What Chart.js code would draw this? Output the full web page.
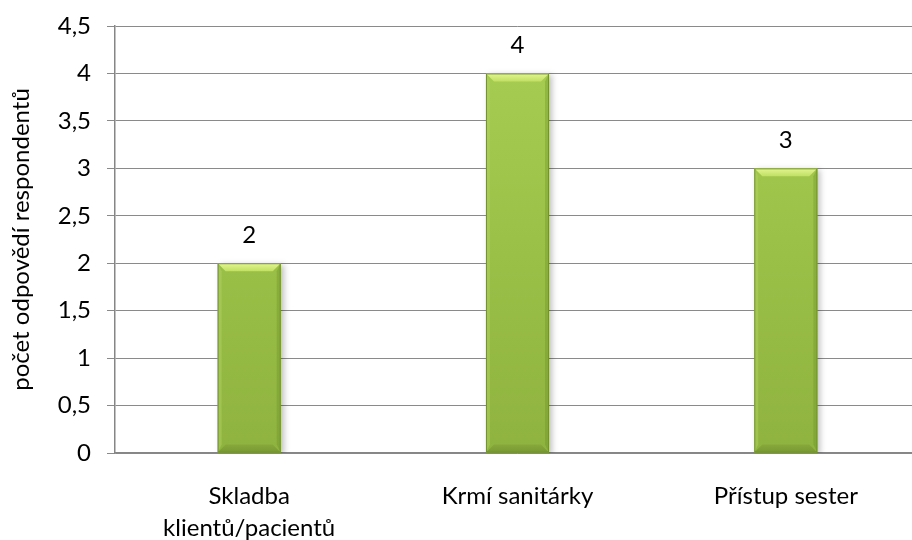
<!DOCTYPE html>
<html>
<head>
<meta charset="utf-8">
<script src="https://cdn.jsdelivr.net/npm/chart.js@4.4.1/dist/chart.umd.min.js"></script>
<style>
  html, body { margin: 0; padding: 0; background: #fff; overflow: hidden; }
  #wrap { width: 920px; height: 540px; }
</style>
</head>
<body>
<div id="wrap"><canvas id="odpovedi"></canvas></div>
<script>
// Kategorie a počty odpovědí
const categories = [["Skladba", "klientů/pacientů"], "Krmí sanitárky", "Přístup sester"];
const values = [2, 4, 3];
const yMin = 0;
const yMax = 4.5;
const yStep = 0.5;
const yTitle = "počet odpovědí respondentů";

const FONT = "Lato";
const FONT_SIZE = 24;

function fmt(v) {
  return String(v).replace(".", ",");
}

// Stín pod sloupci
const barShadow = {
  id: "barShadow",
  beforeDatasetDraw(chart) {
    const ctx = chart.ctx;
    ctx.save();
    ctx.shadowColor = "rgba(0,0,0,0.25)";
    ctx.shadowBlur = 6;
    ctx.shadowOffsetX = 3;
    ctx.shadowOffsetY = 2;
  },
  afterDatasetDraw(chart) {
    chart.ctx.restore();
  }
};

// Zkosené hrany sloupců + popisky hodnot
const bevelAndLabels = {
  id: "bevelAndLabels",
  afterDatasetsDraw(chart) {
    const ctx = chart.ctx;
    const meta = chart.getDatasetMeta(0);
    meta.data.forEach((bar, i) => {
      const l = bar.x - bar.width / 2;
      const r = bar.x + bar.width / 2;
      const t = bar.y;
      const b = bar.base;
      const s = 8;
      ctx.save();

      // horní hrana
      let g = ctx.createLinearGradient(0, t, 0, t + s);
      g.addColorStop(0, "#e4f692");
      g.addColorStop(1, "#bfe062");
      ctx.fillStyle = g;
      ctx.beginPath();
      ctx.moveTo(l, t); ctx.lineTo(r, t); ctx.lineTo(r - s, t + s); ctx.lineTo(l + s, t + s);
      ctx.closePath(); ctx.fill();

      // levá hrana
      ctx.fillStyle = "rgba(175,210,95,0.5)";
      ctx.beginPath();
      ctx.moveTo(l, t); ctx.lineTo(l + s * 0.5, t + s); ctx.lineTo(l + s * 0.5, b - s); ctx.lineTo(l, b);
      ctx.closePath(); ctx.fill();

      // pravá hrana
      ctx.fillStyle = "rgba(100,135,40,0.3)";
      ctx.beginPath();
      ctx.moveTo(r, t); ctx.lineTo(r - s * 0.5, t + s); ctx.lineTo(r - s * 0.5, b - s); ctx.lineTo(r, b);
      ctx.closePath(); ctx.fill();

      // spodní hrana
      g = ctx.createLinearGradient(0, b - s, 0, b);
      g.addColorStop(0, "#87a83b");
      g.addColorStop(1, "#789932");
      ctx.fillStyle = g;
      ctx.beginPath();
      ctx.moveTo(l, b); ctx.lineTo(r, b); ctx.lineTo(r - s, b - s); ctx.lineTo(l + s, b - s);
      ctx.closePath(); ctx.fill();

      // obrys
      ctx.strokeStyle = "#74932f";
      ctx.lineWidth = 1;
      ctx.strokeRect(l + 0.5, t + 0.5, bar.width - 1, b - t - 1);

      // hodnota nad sloupcem
      ctx.fillStyle = "#000";
      ctx.font = FONT_SIZE + "px " + FONT;
      ctx.textAlign = "center";
      ctx.textBaseline = "alphabetic";
      ctx.fillText(fmt(values[i]), bar.x, t - 20);
      ctx.restore();
    });
  }
};

const ctx = document.getElementById("odpovedi").getContext("2d");

new Chart(ctx, {
  type: "bar",
  data: {
    labels: categories,
    datasets: [{
      data: values,
      backgroundColor(c) {
        const area = c.chart.chartArea;
        if (!area) return "#9cc24a";
        const g = c.chart.ctx.createLinearGradient(0, area.top, 0, area.bottom);
        g.addColorStop(0, "#a8cf52");
        g.addColorStop(1, "#8fb33f");
        return g;
      },
      borderWidth: 0,
      barPercentage: 0.235,
      categoryPercentage: 1
    }]
  },
  options: {
    responsive: true,
    maintainAspectRatio: false,
    animation: false,
    layout: { padding: { top: 26, right: 0, bottom: 0, left: 0 } },
    plugins: {
      legend: { display: false },
      tooltip: { enabled: false }
    },
    scales: {
      x: {
        afterFit(scale) {
          scale.height = 87;
          scale.paddingLeft = 0;
          scale.paddingRight = 0;
        },
        grid: { display: false, drawTicks: false },
        border: { display: true, color: "#868686", width: 1.5 },
        ticks: {
          color: "#000",
          padding: 27,
          maxRotation: 0,
          font: { family: FONT, size: FONT_SIZE, lineHeight: 1.35 }
        }
      },
      y: {
        min: yMin,
        max: yMax,
        afterFit(scale) {
          scale.width = 115;
          scale.paddingTop = 0;
          scale.paddingBottom = 0;
        },
        grid: { color: "#8a8a8a", lineWidth: 1, tickLength: 8 },
        border: { display: true, color: "#868686", width: 1.5 },
        ticks: {
          stepSize: yStep,
          color: "#000",
          padding: 16,
          font: { family: FONT, size: FONT_SIZE },
          callback: (v) => fmt(v)
        },
        title: {
          display: true,
          text: yTitle,
          color: "#000",
          padding: { top: 7, bottom: 0 },
          font: { family: FONT, size: FONT_SIZE, lineHeight: 1.2 }
        }
      }
    }
  },
  plugins: [barShadow, bevelAndLabels]
});
</script>
</body>
</html>
